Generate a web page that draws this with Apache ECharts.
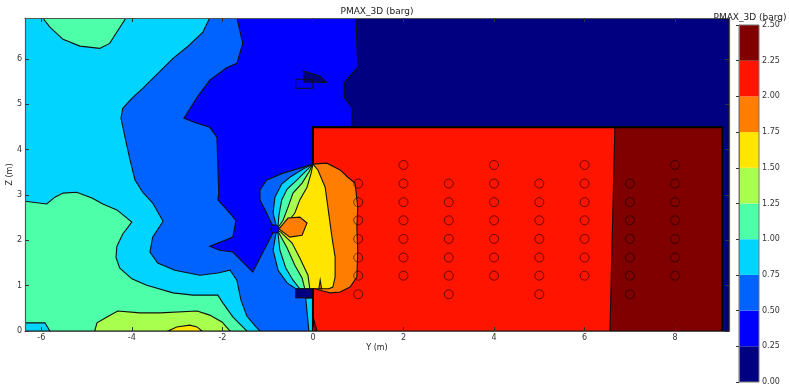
<!DOCTYPE html>
<html>
<head>
<meta charset="utf-8">
<script src="https://cdn.jsdelivr.net/npm/echarts@6/dist/echarts.min.js"></script>
<style>
  html, body { margin: 0; padding: 0; background: #fff; }
  #chart { width: 789px; height: 387px; }
</style>
</head>
<body>
<div id="chart"></div>
<script>
// Plot extent (m)
const Y_MIN = -6.36, Y_MAX = 9.19, Z_MIN = 0, Z_MAX = 6.9;

// Contour levels (barg) and the jet colour of each band
const levels = [0, 0.25, 0.5, 0.75, 1.0, 1.25, 1.5, 1.75, 2.0, 2.25, 2.5];
const bandColors = ['#000080', '#0000ff', '#0063ff', '#00d4ff', '#4effa9',
                    '#a9ff4e', '#ffe500', '#ff7d00', '#ff1400', '#800000'];

const yTicks = [-6, -4, -2, 0, 2, 4, 6, 8];
const zTicks = [0, 1, 2, 3, 4, 5, 6];

// Superlevel regions, one list per band, vertices as [Y, Z] in metres
const band0 = [
  [[-6.36, 0], [-6.36, 6.9], [9.19, 6.9], [9.19, 0]]
];
const band1 = [
  [[-6.36, 0], [-6.36, 6.9], [0.95, 6.9], [0.99, 5.81], [0.69, 5.48], [0.69, 5.15],
   [0.86, 4.93], [0.86, 4.49], [9.04, 4.49], [9.04, 0]]
];
const band0Pocket = [
  [[-0.21, 5.73], [-0.2, 5.49], [0.3, 5.48], [0.15, 5.62]]
];
const band2 = [
  [[-6.36, 6.9], [-1.68, 6.9], [-1.55, 6.34], [-1.68, 5.90], [-1.90, 5.81], [-2.28, 5.53],
   [-2.56, 5.15], [-2.85, 4.69], [-2.56, 4.58], [-2.28, 4.49], [-2.12, 4.27], [-2.10, 3.61],
   [-2.08, 3.04], [-2.10, 2.89], [-1.90, 2.67], [-1.70, 2.44], [-1.77, 2.07], [-1.94, 2.00],
   [-2.28, 1.87], [-2.06, 1.78], [-1.77, 1.74], [-1.33, 1.30], [-0.84, 2.25],
   [-0.93, 2.40], [-1.04, 2.64], [-1.17, 2.89], [-1.17, 3.11], [-1.02, 3.33],
   [-0.66, 3.48], [-0.29, 3.59], [0, 3.68], [0, 0], [-6.36, 0]]
];
const band3 = [
  [[-6.36, 0], [-6.36, 6.9], [-2.28, 6.9], [-2.43, 6.59], [-2.78, 6.26], [-3.09, 6.01],
   [-3.76, 5.35], [-4.00, 5.13], [-4.20, 4.91], [-4.24, 4.69], [-4.15, 4.27], [-4.04, 3.77],
   [-3.93, 3.33], [-3.76, 3.06], [-3.54, 2.82], [-3.31, 2.42], [-3.54, 2.07], [-3.60, 1.74],
   [-3.43, 1.50], [-3.05, 1.34], [-2.50, 1.23], [-2.10, 1.28], [-1.83, 1.34], [-1.68, 1.12],
   [-1.59, 0.68], [-1.46, 0.33], [-1.26, 0.09], [-1.17, 0]],
  [[0, 3.68], [-0.22, 3.57], [-0.51, 3.39], [-0.69, 3.24], [-0.84, 2.95], [-0.88, 2.60],
   [-0.82, 2.36], [-0.84, 2.25], [-0.82, 2.14], [-0.88, 1.78], [-0.77, 1.34], [-0.57, 1.06],
   [-0.38, 0.93], [0, 0.93], [0, 0], [9.04, 0], [9.04, 4.49], [0, 4.49]],
  [[-0.16, 0.73], [0, 0.73], [0, 0], [-0.09, 0]]
];
const band4 = [
  [[-5.97, 6.9], [-5.81, 6.70], [-5.52, 6.43], [-5.15, 6.28], [-4.71, 6.23], [-4.49, 6.34],
   [-4.33, 6.59], [-4.13, 6.9]],
  [[-6.36, 0], [-6.36, 2.86], [-5.88, 2.80], [-5.70, 2.95], [-5.52, 3.04], [-5.22, 3.06],
   [-4.88, 2.93], [-4.64, 2.80], [-4.33, 2.67], [-4.00, 2.40], [-4.20, 2.14], [-4.33, 1.87],
   [-4.35, 1.63], [-4.27, 1.39], [-4.00, 1.15], [-3.67, 1.01], [-3.09, 0.84], [-2.65, 0.79],
   [-2.10, 0.79], [-1.99, 0.62], [-1.77, 0.31], [-1.46, 0]],
  [[0, 3.68], [-0.13, 3.55], [-0.35, 3.33], [-0.57, 3.13], [-0.69, 2.89], [-0.75, 2.56],
   [-0.77, 2.33], [-0.84, 2.25], [-0.77, 2.14], [-0.73, 1.78], [-0.60, 1.39], [-0.44, 1.12],
   [-0.29, 0.93], [0, 0.93], [0, 0], [9.04, 0], [9.04, 4.49], [0, 4.49]]
];
const bandCyanCorner = [
  [[-6.36, 0], [-6.36, 0.18], [-5.92, 0.18], [-5.81, 0]]
];
const band5 = [
  [[-4.82, 0], [-4.77, 0.18], [-4.55, 0.31], [-4.31, 0.44], [-3.82, 0.40], [-3.38, 0.40],
   [-2.56, 0.44], [-2.28, 0.35], [-2.01, 0.20], [-1.83, 0]],
  [[0, 3.68], [-0.09, 3.50], [-0.24, 3.26], [-0.44, 3.04], [-0.55, 2.73], [-0.66, 2.44],
   [-0.75, 2.31], [-0.84, 2.25], [-0.75, 2.16], [-0.57, 1.83], [-0.40, 1.45], [-0.24, 1.17],
   [-0.18, 0.93], [0, 0.93], [0, 0], [9.04, 0], [9.04, 4.49], [0, 4.49]]
];
const band6 = [
  [[-3.20, 0], [-3.01, 0.09], [-2.72, 0.13], [-2.56, 0.09], [-2.45, 0]],
  [[0, 3.68], [-0.04, 3.48], [-0.13, 3.17], [-0.29, 2.89], [-0.40, 2.60], [-0.57, 2.38],
   [-0.73, 2.27], [-0.84, 2.25], [-0.71, 2.18], [-0.46, 1.94], [-0.29, 1.61], [-0.11, 1.23],
   [-0.07, 0.93], [0, 0.93], [0, 0], [9.04, 0], [9.04, 4.49], [0, 4.49]]
];
const band7 = [
  [[0, 3.68], [0.11, 3.55], [0.27, 3.17], [0.33, 2.73], [0.42, 2.07], [0.49, 1.63],
   [0.49, 1.19], [0.44, 0.97], [0.35, 0.93], [0, 0.93], [0, 0], [9.04, 0], [9.04, 4.49], [0, 4.49]],
  [[-0.75, 2.25], [-0.55, 2.49], [-0.29, 2.51], [-0.13, 2.38], [-0.24, 2.11], [-0.51, 2.07]],
  [[0.13, 0.93], [0.16, 1.12], [0.19, 0.93]]
];
const band8 = [
  [[0, 4.49], [9.04, 4.49], [9.04, 0], [0, 0], [0, 0.93], [0.04, 0.93], [0.22, 0.88],
   [0.38, 0.84], [0.60, 0.86], [0.82, 0.97], [0.97, 1.19], [0.99, 1.78], [0.97, 2.29],
   [0.99, 2.73], [0.93, 3.26], [0.77, 3.39], [0.60, 3.55], [0.31, 3.70], [0, 3.68]]
];
const band9 = [
  [[6.67, 4.49], [9.04, 4.49], [9.04, 0], [6.56, 0]],
  [[0, 0.33], [0.09, 0], [0, 0]]
];

// Solid obstacles and walls
const ventBlock = [[-0.38, 0.73], [0, 0.73], [0, 0.93], [-0.38, 0.93]];
const upperBlock = [[-0.38, 5.35], [0, 5.35], [0, 5.55], [-0.38, 5.55]];
const wallUpper = [[0, 3.68], [0, 4.49], [9.04, 4.49], [9.04, 0]];
const wallLower = [[0, 0], [0, 0.93]];
const nozzle = { center: [-0.84, 2.25], radius: 0.09 };

// Monitor points
const probeY = [1, 2, 3, 4, 5, 6, 7, 8];
const probeZOdd = [0.81, 1.22, 1.62, 2.03, 2.44, 2.84, 3.25];
const probeZEven = [1.22, 1.62, 2.03, 2.44, 2.84, 3.25, 3.66];

// Paint order: lower bands first, higher bands on top
const regions = [];
function addRegions(list, band) { list.forEach(pts => regions.push({ band, pts })); }
addRegions(band0, 0);
addRegions(band1, 1);
addRegions(band0Pocket, 0);
addRegions(band2, 2);
addRegions(band3, 3);
addRegions(band4, 4);
addRegions(bandCyanCorner, 3);
addRegions(band5, 5);
addRegions(band6, 6);
addRegions(band7, 7);
addRegions(band8, 8);
addRegions(band9, 9);

const probes = [];
probeY.forEach((y, i) => {
  (i % 2 === 0 ? probeZOdd : probeZEven).forEach(z => probes.push([y, z]));
});

const FONT = 'DejaVu Sans';
const tickStyle = { show: true, inside: true, length: 4, lineStyle: { color: '#333', width: 1 } };
const frameLine = { show: true, onZero: false, lineStyle: { color: '#555', width: 1.2 } };

const chart = echarts.init(document.getElementById('chart'), null, { renderer: 'canvas' });
chart.setOption({
  animation: false,
  backgroundColor: '#fff',
  textStyle: { fontFamily: FONT },
  graphic: [
    { type: 'text', x: 377, y: 12, z: 100,
      style: { text: 'PMAX_3D (barg)', font: '9px "DejaVu Sans"', fill: '#222', align: 'center', verticalAlign: 'middle' } },
    { type: 'text', x: 750, y: 18, z: 100,
      style: { text: 'PMAX_3D (barg)', font: '9px "DejaVu Sans"', fill: '#222', align: 'center', verticalAlign: 'middle' } }
  ],
  grid: [
    { left: 25, top: 18, width: 704, height: 313, outerBoundsMode: 'none', containLabel: false },
    { left: 739, top: 25, width: 20, height: 357, outerBoundsMode: 'none', containLabel: false }
  ],
  xAxis: [
    { type: 'value', gridIndex: 0, min: Y_MIN, max: Y_MAX, position: 'bottom', z: 10,
      name: 'Y (m)', nameLocation: 'middle', nameGap: 13, nameMoveOverlap: false,
      nameTextStyle: { fontSize: 8, color: '#222', fontFamily: FONT },
      axisLine: frameLine, splitLine: { show: false },
      axisTick: Object.assign({ customValues: yTicks }, tickStyle),
      axisLabel: { customValues: yTicks, fontSize: 8, color: '#333', margin: 3, fontFamily: FONT } },
    { type: 'value', gridIndex: 0, min: Y_MIN, max: Y_MAX, position: 'top', z: 10,
      axisLine: frameLine, splitLine: { show: false },
      axisTick: Object.assign({ customValues: yTicks }, tickStyle),
      axisLabel: { show: false } },
    { type: 'value', gridIndex: 1, min: 0, max: 1, show: false }
  ],
  yAxis: [
    { type: 'value', gridIndex: 0, min: Z_MIN, max: Z_MAX, position: 'left', z: 10,
      name: 'Z (m)', nameLocation: 'middle', nameGap: 11, nameMoveOverlap: false,
      nameTextStyle: { fontSize: 8, color: '#222', fontFamily: FONT },
      axisLine: frameLine, splitLine: { show: false },
      axisTick: Object.assign({ customValues: zTicks }, tickStyle),
      axisLabel: { customValues: zTicks, fontSize: 8, color: '#333', margin: 3, fontFamily: FONT } },
    { type: 'value', gridIndex: 0, min: Z_MIN, max: Z_MAX, position: 'right', z: 10,
      axisLine: frameLine, splitLine: { show: false },
      axisTick: Object.assign({ customValues: zTicks }, tickStyle),
      axisLabel: { show: false } },
    { type: 'value', gridIndex: 1, min: 0, max: 2.5, interval: 0.25, position: 'right', z: 10,
      axisLine: { show: true, lineStyle: { color: '#777', width: 1 } },
      splitLine: { show: false },
      axisTick: { show: true, inside: true, length: 3, lineStyle: { color: '#333' } },
      axisLabel: { fontSize: 8, color: '#333', margin: 3, fontFamily: FONT,
                   formatter: v => v.toFixed(2) } }
  ],
  series: [
    {
      type: 'custom', xAxisIndex: 0, yAxisIndex: 0, silent: true, clip: true,
      data: regions.map((r, i) => [i]),
      renderItem: (params, api) => {
        const r = regions[params.dataIndex];
        return {
          type: 'polygon',
          shape: { points: r.pts.map(p => api.coord(p)) },
          style: { fill: bandColors[r.band], stroke: '#111', lineWidth: 1.1 }
        };
      }
    },
    {
      // obstacles, nozzle and container walls
      type: 'custom', xAxisIndex: 0, yAxisIndex: 0, silent: true, clip: true,
      data: [[0]],
      renderItem: (params, api) => {
        const c = api.coord(nozzle.center);
        const r = api.size([nozzle.radius, 0])[0];
        return {
          type: 'group',
          children: [
            { type: 'circle', shape: { cx: c[0], cy: c[1], r },
              style: { fill: bandColors[1], stroke: '#111', lineWidth: 0.9 } },
            { type: 'polygon', shape: { points: ventBlock.map(p => api.coord(p)) },
              style: { fill: bandColors[0], stroke: '#111', lineWidth: 1 } },
            { type: 'polygon', shape: { points: upperBlock.map(p => api.coord(p)) },
              style: { fill: 'none', stroke: '#111', lineWidth: 1 } },
            { type: 'polyline', shape: { points: wallUpper.map(p => api.coord(p)) },
              style: { fill: 'none', stroke: '#000', lineWidth: 2 } },
            { type: 'polyline', shape: { points: wallLower.map(p => api.coord(p)) },
              style: { fill: 'none', stroke: '#000', lineWidth: 2 } }
          ]
        };
      }
    },
    {
      type: 'scatter', xAxisIndex: 0, yAxisIndex: 0, silent: true,
      symbol: 'circle', symbolSize: 9,
      itemStyle: { color: 'rgba(0,0,0,0)', borderColor: 'rgba(0,0,0,0.8)', borderWidth: 0.9 },
      data: probes
    },
    {
      // colour bar bands and outline
      type: 'custom', xAxisIndex: 2, yAxisIndex: 2, silent: true,
      data: bandColors.map((c, i) => [i]),
      renderItem: (params, api) => {
        const i = params.dataIndex;
        const p0 = api.coord([0, levels[i]]);
        const p1 = api.coord([1, levels[i + 1]]);
        const children = [{
          type: 'rect',
          shape: { x: p0[0], y: p1[1], width: p1[0] - p0[0], height: p0[1] - p1[1] },
          style: { fill: bandColors[i] }
        }];
        if (i === bandColors.length - 1) {
          const a = api.coord([0, levels[0]]);
          const b = api.coord([1, levels[levels.length - 1]]);
          children.push({
            type: 'rect', z2: 5,
            shape: { x: a[0], y: b[1], width: b[0] - a[0], height: a[1] - b[1] },
            style: { fill: 'none', stroke: '#777', lineWidth: 1 }
          });
        }
        return { type: 'group', children };
      }
    }
  ]
});
</script>
</body>
</html>
